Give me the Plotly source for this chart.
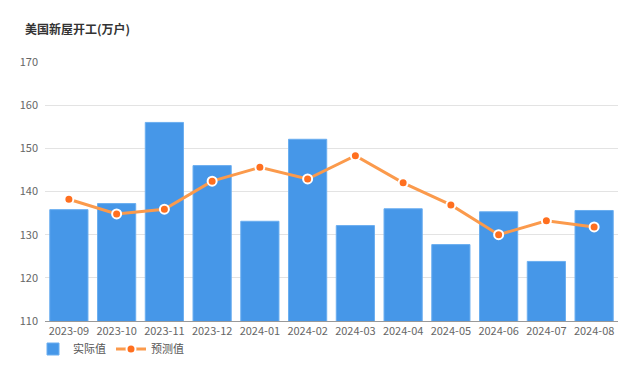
import plotly.graph_objects as go

months = ["2023-09", "2023-10", "2023-11", "2023-12", "2024-01", "2024-02",
          "2024-03", "2024-04", "2024-05", "2024-06", "2024-07", "2024-08"]
actual = [135.8, 137.2, 156.0, 146.0, 133.1, 152.1, 132.1, 136.0, 127.7, 135.3, 123.8, 135.6]
forecast = [138.2, 134.8, 135.9, 142.4, 145.6, 142.9, 148.3, 142.0, 136.9, 130.0, 133.2, 131.8]
y_ticks = [110, 120, 130, 140, 150, 160, 170]

FONT = "Noto Sans CJK SC, Noto Sans, sans-serif"

# page body has an 8px margin, so the figure is sized to fit the 640x369 window
W, H = 632, 361

fig = go.Figure()
fig.add_trace(go.Bar(
    x=months, y=actual, name="实际值",
    marker=dict(color="#4697e8", line=dict(color="#6aaef0", width=1)),
    width=0.8,
))
fig.add_trace(go.Scatter(
    x=months, y=forecast, name="预测值", mode="lines+markers",
    line=dict(color="#fb9a4c", width=3),
    marker=dict(color="#ff6f1f", size=9, line=dict(color="white", width=2)),
))

fig.update_layout(
    width=W, height=H,
    margin=dict(l=37, r=22, t=54, b=48, autoexpand=False),
    paper_bgcolor="white", plot_bgcolor="white",
    font=dict(family=FONT, color="#666666", size=11),
    title=dict(text="<b>美国新屋开工(万户)</b>", xref="container", x=17 / W, xanchor="left",
               yref="container", y=1 - 22 / H, yanchor="middle",
               font=dict(size=12, color="#333333", family=FONT)),
    showlegend=True,
    legend=dict(orientation="h", x=25 / W, xref="container", xanchor="left",
                yref="container", y=1 - 341 / H, yanchor="middle", itemwidth=30,
                font=dict(size=11, color="#555555")),
    bargap=0.2,
)
fig.update_xaxes(type="category", range=[-0.5, 11.5], showline=True, linecolor="#999999",
                 linewidth=1, ticks="", tickfont=dict(size=11, color="#666666"), showgrid=False)
fig.update_yaxes(range=[110, 170], tickvals=y_ticks, showgrid=True, gridcolor="#e3e3e3",
                 gridwidth=1, zeroline=False, showline=False,
                 tickfont=dict(size=11, color="#666666"), ticklabelstandoff=6)

fig.write_html("out.html")
